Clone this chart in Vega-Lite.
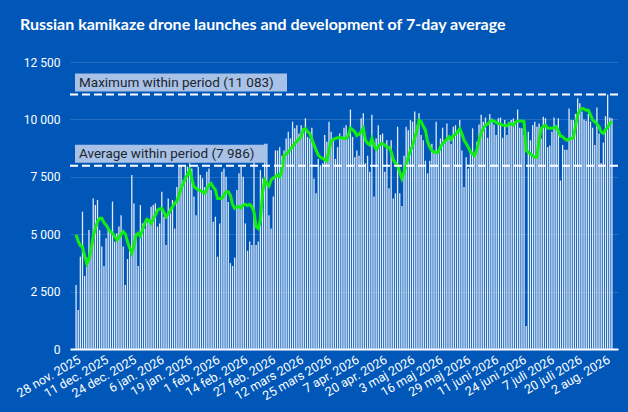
{
  "$schema": "https://vega.github.io/schema/vega-lite/v6.json",
  "width": 548,
  "height": 287,
  "autosize": {"type": "none"},
  "padding": {"left": 70, "top": 62, "right": 10, "bottom": 63},
  "background": "#0057b8",
  "config": {"view": {"stroke": null}, "font": "Roboto"},
  "title": {
    "text": "Russian kamikaze drone launches and development of 7-day average",
    "anchor": "start",
    "frame": "group",
    "dx": -50,
    "offset": 10,
    "baseline": "alphabetic",
    "font": "Lato",
    "fontSize": 16,
    "fontWeight": "bold",
    "color": "white"
  },
  "datasets": {
    "daily": [
      {"date":"2025-11-28","launches":2790,"avg":4980},{"date":"2025-11-29","launches":1700,"avg":4700},{"date":"2025-11-30","launches":4020,"avg":4500},
      {"date":"2025-12-01","launches":5980,"avg":4450},{"date":"2025-12-02","launches":3180,"avg":4050},{"date":"2025-12-03","launches":3990,"avg":3720},{"date":"2025-12-04","launches":5180,"avg":3900},{"date":"2025-12-05","launches":4460,"avg":4350},{"date":"2025-12-06","launches":6560,"avg":4900},{"date":"2025-12-07","launches":6270,"avg":5250},{"date":"2025-12-08","launches":6490,"avg":5550},{"date":"2025-12-09","launches":5180,"avg":5690},{"date":"2025-12-10","launches":4460,"avg":5690},{"date":"2025-12-11","launches":3620,"avg":5500},{"date":"2025-12-12","launches":4820,"avg":5400},{"date":"2025-12-13","launches":5330,"avg":5250},{"date":"2025-12-14","launches":5180,"avg":5110},{"date":"2025-12-15","launches":6420,"avg":5050},{"date":"2025-12-16","launches":4680,"avg":4900},{"date":"2025-12-17","launches":5040,"avg":4750},{"date":"2025-12-18","launches":5330,"avg":4850},{"date":"2025-12-19","launches":5830,"avg":5000},{"date":"2025-12-20","launches":4460,"avg":5110},{"date":"2025-12-21","launches":2790,"avg":5000},{"date":"2025-12-22","launches":3920,"avg":4680},{"date":"2025-12-23","launches":4360,"avg":4400},{"date":"2025-12-24","launches":7580,"avg":4170},{"date":"2025-12-25","launches":6340,"avg":4500},{"date":"2025-12-26","launches":5040,"avg":4950},{"date":"2025-12-27","launches":3620,"avg":5040},{"date":"2025-12-28","launches":6270,"avg":4920},{"date":"2025-12-29","launches":5470,"avg":5200},{"date":"2025-12-30","launches":5250,"avg":5470},{"date":"2025-12-31","launches":5690,"avg":5650},
      {"date":"2026-01-01","launches":5620,"avg":5600},{"date":"2026-01-02","launches":6200,"avg":5470},{"date":"2026-01-03","launches":6270,"avg":5650},{"date":"2026-01-04","launches":6340,"avg":5830},{"date":"2026-01-05","launches":5330,"avg":6050},{"date":"2026-01-06","launches":5470,"avg":6100},{"date":"2026-01-07","launches":6850,"avg":6130},{"date":"2026-01-08","launches":5760,"avg":5950},{"date":"2026-01-09","launches":4530,"avg":5760},{"date":"2026-01-10","launches":6560,"avg":5900},{"date":"2026-01-11","launches":5910,"avg":6050},{"date":"2026-01-12","launches":6490,"avg":6200},{"date":"2026-01-13","launches":5250,"avg":6340},{"date":"2026-01-14","launches":7060,"avg":6450},{"date":"2026-01-15","launches":8010,"avg":6700},{"date":"2026-01-16","launches":8010,"avg":7000},{"date":"2026-01-17","launches":7360,"avg":7210},{"date":"2026-01-18","launches":8010,"avg":7430},{"date":"2026-01-19","launches":7940,"avg":7600},{"date":"2026-01-20","launches":8090,"avg":7790},{"date":"2026-01-21","launches":7860,"avg":7430},{"date":"2026-01-22","launches":6640,"avg":7060},{"date":"2026-01-23","launches":5830,"avg":7000},{"date":"2026-01-24","launches":7940,"avg":6930},{"date":"2026-01-25","launches":7580,"avg":6900},{"date":"2026-01-26","launches":7430,"avg":6850},{"date":"2026-01-27","launches":7060,"avg":6780},{"date":"2026-01-28","launches":7720,"avg":6950},{"date":"2026-01-29","launches":7860,"avg":7140},{"date":"2026-01-30","launches":6930,"avg":7210},{"date":"2026-01-31","launches":5540,"avg":7050},
      {"date":"2026-02-01","launches":5760,"avg":6930},{"date":"2026-02-02","launches":4020,"avg":6560},{"date":"2026-02-03","launches":5470,"avg":6560},{"date":"2026-02-04","launches":7720,"avg":6560},{"date":"2026-02-05","launches":7860,"avg":6710},{"date":"2026-02-06","launches":7500,"avg":6850},{"date":"2026-02-07","launches":6400,"avg":6850},{"date":"2026-02-08","launches":3740,"avg":6700},{"date":"2026-02-09","launches":3620,"avg":6300},{"date":"2026-02-10","launches":3990,"avg":6130},{"date":"2026-02-11","launches":6930,"avg":6200},{"date":"2026-02-12","launches":7650,"avg":6200},{"date":"2026-02-13","launches":7940,"avg":6150},{"date":"2026-02-14","launches":7500,"avg":6270},{"date":"2026-02-15","launches":5470,"avg":6300},{"date":"2026-02-16","launches":4280,"avg":6250},{"date":"2026-02-17","launches":4680,"avg":6300},{"date":"2026-02-18","launches":4530,"avg":6200},{"date":"2026-02-19","launches":8420,"avg":5980},{"date":"2026-02-20","launches":4530,"avg":5330},{"date":"2026-02-21","launches":4680,"avg":5250},{"date":"2026-02-22","launches":7790,"avg":5610},{"date":"2026-02-23","launches":7430,"avg":6800},{"date":"2026-02-24","launches":8940,"avg":7360},{"date":"2026-02-25","launches":8940,"avg":7200},{"date":"2026-02-26","launches":5830,"avg":7100},{"date":"2026-02-27","launches":5250,"avg":7360},{"date":"2026-02-28","launches":6640,"avg":7450},
      {"date":"2026-03-01","launches":8650,"avg":7500},{"date":"2026-03-02","launches":8650,"avg":7580},{"date":"2026-03-03","launches":8790,"avg":7500},{"date":"2026-03-04","launches":8420,"avg":7790},{"date":"2026-03-05","launches":8650,"avg":8420},{"date":"2026-03-06","launches":9170,"avg":8500},{"date":"2026-03-07","launches":9460,"avg":8570},{"date":"2026-03-08","launches":9170,"avg":8700},{"date":"2026-03-09","launches":9900,"avg":8800},{"date":"2026-03-10","launches":9610,"avg":8940},{"date":"2026-03-11","launches":9750,"avg":9050},{"date":"2026-03-12","launches":9390,"avg":9150},{"date":"2026-03-13","launches":9750,"avg":9240},{"date":"2026-03-14","launches":9610,"avg":9560},{"date":"2026-03-15","launches":10050,"avg":9600},{"date":"2026-03-16","launches":9240,"avg":9460},{"date":"2026-03-17","launches":9170,"avg":9390},{"date":"2026-03-18","launches":9640,"avg":9150},{"date":"2026-03-19","launches":7430,"avg":8890},{"date":"2026-03-20","launches":6780,"avg":8650},{"date":"2026-03-21","launches":8280,"avg":8450},{"date":"2026-03-22","launches":8010,"avg":8350},{"date":"2026-03-23","launches":8090,"avg":8300},{"date":"2026-03-24","launches":9320,"avg":8250},{"date":"2026-03-25","launches":9030,"avg":8200},{"date":"2026-03-26","launches":9900,"avg":8650},{"date":"2026-03-27","launches":9460,"avg":9050},{"date":"2026-03-28","launches":9170,"avg":9120},{"date":"2026-03-29","launches":8280,"avg":9170},{"date":"2026-03-30","launches":8790,"avg":9200},{"date":"2026-03-31","launches":9390,"avg":9200},
      {"date":"2026-04-01","launches":9240,"avg":9200},{"date":"2026-04-02","launches":9640,"avg":9170},{"date":"2026-04-03","launches":9750,"avg":9170},{"date":"2026-04-04","launches":9170,"avg":9300},{"date":"2026-04-05","launches":10430,"avg":9620},{"date":"2026-04-06","launches":9240,"avg":9550},{"date":"2026-04-07","launches":8350,"avg":9460},{"date":"2026-04-08","launches":8650,"avg":9300},{"date":"2026-04-09","launches":8420,"avg":9350},{"date":"2026-04-10","launches":10050,"avg":9460},{"date":"2026-04-11","launches":10270,"avg":9610},{"date":"2026-04-12","launches":8090,"avg":9100},{"date":"2026-04-13","launches":8420,"avg":8950},{"date":"2026-04-14","launches":7720,"avg":8890},{"date":"2026-04-15","launches":10200,"avg":9170},{"date":"2026-04-16","launches":6640,"avg":8890},{"date":"2026-04-17","launches":9170,"avg":8700},{"date":"2026-04-18","launches":9750,"avg":8800},{"date":"2026-04-19","launches":9320,"avg":8940},{"date":"2026-04-20","launches":9390,"avg":8940},{"date":"2026-04-21","launches":7720,"avg":8900},{"date":"2026-04-22","launches":9090,"avg":8790},{"date":"2026-04-23","launches":7000,"avg":8790},{"date":"2026-04-24","launches":9090,"avg":8600},{"date":"2026-04-25","launches":6560,"avg":8250},{"date":"2026-04-26","launches":6780,"avg":8100},{"date":"2026-04-27","launches":9680,"avg":8010},{"date":"2026-04-28","launches":6780,"avg":7700},{"date":"2026-04-29","launches":6230,"avg":7430},{"date":"2026-04-30","launches":8420,"avg":7720},
      {"date":"2026-05-01","launches":9680,"avg":8000},{"date":"2026-05-02","launches":9530,"avg":8350},{"date":"2026-05-03","launches":9970,"avg":8650},{"date":"2026-05-04","launches":9900,"avg":8850},{"date":"2026-05-05","launches":10340,"avg":9200},{"date":"2026-05-06","launches":9750,"avg":9530},{"date":"2026-05-07","launches":10270,"avg":9970},{"date":"2026-05-08","launches":9320,"avg":9900},{"date":"2026-05-09","launches":9090,"avg":9700},{"date":"2026-05-10","launches":8200,"avg":9530},{"date":"2026-05-11","launches":7650,"avg":9030},{"date":"2026-05-12","launches":8200,"avg":8800},{"date":"2026-05-13","launches":8940,"avg":8650},{"date":"2026-05-14","launches":8650,"avg":8570},{"date":"2026-05-15","launches":9900,"avg":8570},{"date":"2026-05-16","launches":8570,"avg":8570},{"date":"2026-05-17","launches":9170,"avg":8800},{"date":"2026-05-18","launches":9640,"avg":8950},{"date":"2026-05-19","launches":9030,"avg":9030},{"date":"2026-05-20","launches":9820,"avg":9150},{"date":"2026-05-21","launches":9240,"avg":9240},{"date":"2026-05-22","launches":8940,"avg":9120},{"date":"2026-05-23","launches":9680,"avg":9300},{"date":"2026-05-24","launches":9750,"avg":9350},{"date":"2026-05-25","launches":9530,"avg":9460},{"date":"2026-05-26","launches":9970,"avg":9600},{"date":"2026-05-27","launches":8650,"avg":9390},{"date":"2026-05-28","launches":7060,"avg":9090},{"date":"2026-05-29","launches":8350,"avg":8950},{"date":"2026-05-30","launches":7860,"avg":8790},{"date":"2026-05-31","launches":8570,"avg":8600},
      {"date":"2026-06-01","launches":9610,"avg":8500},{"date":"2026-06-02","launches":8570,"avg":8420},{"date":"2026-06-03","launches":9030,"avg":8700},{"date":"2026-06-04","launches":9780,"avg":9100},{"date":"2026-06-05","launches":10200,"avg":9400},{"date":"2026-06-06","launches":9900,"avg":9610},{"date":"2026-06-07","launches":10080,"avg":9750},{"date":"2026-06-08","launches":9200,"avg":9800},{"date":"2026-06-09","launches":10240,"avg":9900},{"date":"2026-06-10","launches":10040,"avg":9950},{"date":"2026-06-11","launches":9780,"avg":9930},{"date":"2026-06-12","launches":9320,"avg":9870},{"date":"2026-06-13","launches":10050,"avg":9820},{"date":"2026-06-14","launches":10080,"avg":9800},{"date":"2026-06-15","launches":9200,"avg":9750},{"date":"2026-06-16","launches":9970,"avg":9730},{"date":"2026-06-17","launches":9320,"avg":9720},{"date":"2026-06-18","launches":9900,"avg":9820},{"date":"2026-06-19","launches":9970,"avg":9800},{"date":"2026-06-20","launches":10040,"avg":9750},{"date":"2026-06-21","launches":9780,"avg":9880},{"date":"2026-06-22","launches":10430,"avg":9920},{"date":"2026-06-23","launches":9640,"avg":9930},{"date":"2026-06-24","launches":9610,"avg":9930},{"date":"2026-06-25","launches":9320,"avg":9900},{"date":"2026-06-26","launches":1000,"avg":8650},{"date":"2026-06-27","launches":9460,"avg":8570},{"date":"2026-06-28","launches":9090,"avg":8500},{"date":"2026-06-29","launches":9750,"avg":8420},{"date":"2026-06-30","launches":9900,"avg":8350},
      {"date":"2026-07-01","launches":9680,"avg":8350},{"date":"2026-07-02","launches":9820,"avg":9100},{"date":"2026-07-03","launches":9170,"avg":9600},{"date":"2026-07-04","launches":10120,"avg":9700},{"date":"2026-07-05","launches":10050,"avg":9750},{"date":"2026-07-06","launches":8790,"avg":9620},{"date":"2026-07-07","launches":8860,"avg":9610},{"date":"2026-07-08","launches":9460,"avg":9610},{"date":"2026-07-09","launches":10080,"avg":9640},{"date":"2026-07-10","launches":9750,"avg":9680},{"date":"2026-07-11","launches":10050,"avg":9500},{"date":"2026-07-12","launches":7340,"avg":9270},{"date":"2026-07-13","launches":8890,"avg":9250},{"date":"2026-07-14","launches":8680,"avg":9150},{"date":"2026-07-15","launches":8680,"avg":9090},{"date":"2026-07-16","launches":10470,"avg":9150},{"date":"2026-07-17","launches":9970,"avg":9170},{"date":"2026-07-18","launches":9970,"avg":9200},{"date":"2026-07-19","launches":10240,"avg":9700},{"date":"2026-07-20","launches":10920,"avg":10200},{"date":"2026-07-21","launches":10700,"avg":10400},{"date":"2026-07-22","launches":10340,"avg":10480},{"date":"2026-07-23","launches":10000,"avg":10450},{"date":"2026-07-24","launches":9940,"avg":10400},{"date":"2026-07-25","launches":10240,"avg":10400},{"date":"2026-07-26","launches":9900,"avg":10200},{"date":"2026-07-27","launches":9640,"avg":9970},{"date":"2026-07-28","launches":8890,"avg":9900},{"date":"2026-07-29","launches":10520,"avg":9800},{"date":"2026-07-30","launches":9390,"avg":9680},{"date":"2026-07-31","launches":8090,"avg":9450},
      {"date":"2026-08-01","launches":8990,"avg":9390},{"date":"2026-08-02","launches":10140,"avg":9550},{"date":"2026-08-03","launches":11083,"avg":9650},{"date":"2026-08-04","launches":10080,"avg":9820},{"date":"2026-08-05","launches":10050,"avg":9900}
    ],
    "reference": [
      {"kind": "max", "label": "Maximum within period (11 083)", "value": 11083},
      {"kind": "avg", "label": "Average within period (7 986)", "value": 7986}
    ]
  },
  "layer": [
    {
      "data": {"name": "daily"},
      "mark": {"type": "bar", "width": 1.3, "color": "#e2ebf7"},
      "encoding": {
        "x": {
          "field": "date",
          "type": "temporal",
          "scale": {
            "type": "utc",
            "domain": [
              {"year": 2025, "month": 11, "date": 27, "hours": 12, "utc": true},
              {"year": 2026, "month": 8, "date": 5, "hours": 12, "utc": true}
            ]
          },
          "axis": {
            "title": null,
            "grid": false,
            "ticks": false,
            "domainColor": "white",
            "domainWidth": 2,
            "labelColor": "white",
            "labelFontSize": 12.5,
            "labelAngle": -30,
            "labelAlign": "right",
            "labelBaseline": "top",
            "labelPadding": 4,
            "labelOverlap": false,
            "tickCount": 40,
            "values": [
              {"year": 2025, "month": 11, "date": 28, "utc": true},
              {"year": 2025, "month": 12, "date": 11, "utc": true},
              {"year": 2025, "month": 12, "date": 24, "utc": true},
              {"year": 2026, "month": 1, "date": 6, "utc": true},
              {"year": 2026, "month": 1, "date": 19, "utc": true},
              {"year": 2026, "month": 2, "date": 1, "utc": true},
              {"year": 2026, "month": 2, "date": 14, "utc": true},
              {"year": 2026, "month": 2, "date": 27, "utc": true},
              {"year": 2026, "month": 3, "date": 12, "utc": true},
              {"year": 2026, "month": 3, "date": 25, "utc": true},
              {"year": 2026, "month": 4, "date": 7, "utc": true},
              {"year": 2026, "month": 4, "date": 20, "utc": true},
              {"year": 2026, "month": 5, "date": 3, "utc": true},
              {"year": 2026, "month": 5, "date": 16, "utc": true},
              {"year": 2026, "month": 5, "date": 29, "utc": true},
              {"year": 2026, "month": 6, "date": 11, "utc": true},
              {"year": 2026, "month": 6, "date": 24, "utc": true},
              {"year": 2026, "month": 7, "date": 7, "utc": true},
              {"year": 2026, "month": 7, "date": 20, "utc": true},
              {"year": 2026, "month": 8, "date": 2, "utc": true}
            ],
            "labelExpr": "utcdate(datum.value) + ' ' + ['jan.','feb.','mars','apr.','maj','juni','juli','aug.','sep.','okt.','nov.','dec.'][utcmonth(datum.value)] + ' ' + utcyear(datum.value)"
          }
        },
        "y": {
          "field": "launches",
          "type": "quantitative",
          "scale": {"domain": [0, 12500], "nice": false},
          "axis": {
            "title": null,
            "values": [0, 2500, 5000, 7500, 10000, 12500],
            "labelExpr": "replace(format(datum.value, ','), ',', ' ')",
            "labelColor": "white",
            "labelFontSize": 12,
            "labelPadding": 10,
            "ticks": false,
            "domain": false,
            "gridColor": "#ffffff",
            "gridOpacity": 0.14
          }
        }
      }
    },
    {
      "data": {"name": "daily"},
      "mark": {"type": "line", "color": "#12ee12", "strokeWidth": 3},
      "encoding": {
        "x": {"field": "date", "type": "temporal"},
        "y": {"field": "avg", "type": "quantitative"}
      }
    },
    {
      "data": {"name": "reference"},
      "mark": {"type": "rule", "color": "white", "strokeWidth": 2, "strokeDash": [8, 4]},
      "encoding": {"y": {"field": "value", "type": "quantitative"}}
    },
    {
      "data": {"name": "reference"},
      "transform": [{"filter": "datum.kind == 'max'"}],
      "mark": {"type": "rect", "color": "#a7c2e6", "yOffset": -21, "y2Offset": -3, "x2Offset": 212},
      "encoding": {
        "x": {"datum": {"year": 2025, "month": 11, "date": 27, "hours": 12, "utc": true}, "type": "temporal"},
        "x2": {"datum": {"year": 2025, "month": 11, "date": 27, "hours": 12, "utc": true}},
        "y": {"field": "value", "type": "quantitative"},
        "y2": {"field": "value"}
      }
    },
    {
      "data": {"name": "reference"},
      "transform": [{"filter": "datum.kind == 'avg'"}],
      "mark": {"type": "rect", "color": "#a7c2e6", "yOffset": -21, "y2Offset": -3, "x2Offset": 192},
      "encoding": {
        "x": {"datum": {"year": 2025, "month": 11, "date": 27, "hours": 12, "utc": true}, "type": "temporal"},
        "x2": {"datum": {"year": 2025, "month": 11, "date": 27, "hours": 12, "utc": true}},
        "y": {"field": "value", "type": "quantitative"},
        "y2": {"field": "value"}
      }
    },
    {
      "data": {"name": "reference"},
      "mark": {"type": "text", "align": "left", "baseline": "middle", "dx": 4, "dy": -12, "fontSize": 13.5, "color": "#1d2530"},
      "encoding": {
        "x": {"datum": {"year": 2025, "month": 11, "date": 27, "hours": 12, "utc": true}, "type": "temporal"},
        "y": {"field": "value", "type": "quantitative"},
        "text": {"field": "label"}
      }
    }
  ]
}
